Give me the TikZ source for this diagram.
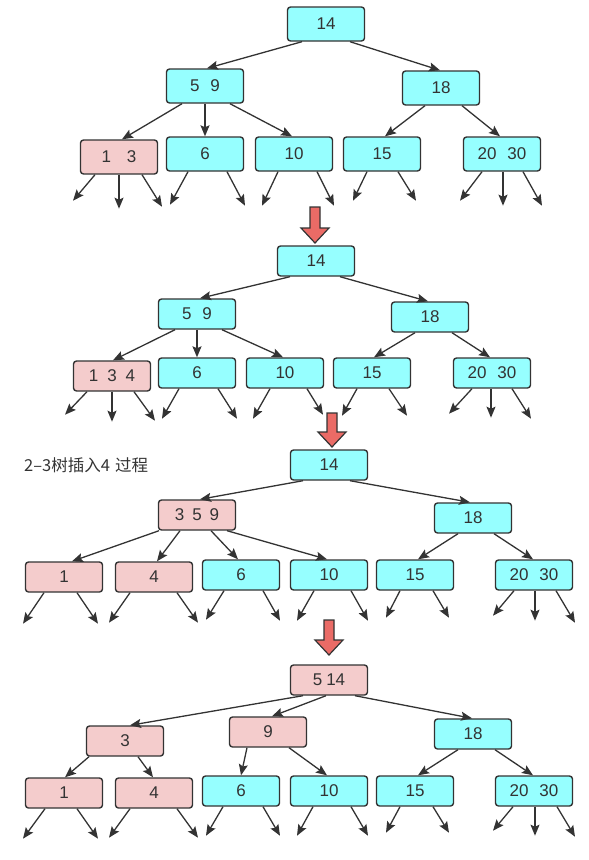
\documentclass[tikz,border=0pt]{standalone}
\usepackage{fontspec}
\setmainfont{Liberation Sans}
\newfontfamily\cjk{Noto Sans CJK SC}
\usetikzlibrary{arrows.meta}
\definecolor{cyanfill}{RGB}{150,255,255}
\definecolor{pinkfill}{RGB}{244,204,204}
\definecolor{ink}{RGB}{51,51,51}
\definecolor{redarrow}{RGB}{234,107,102}
\tikzset{
  box/.style={draw=ink, line width=1.4pt, rounded corners=3pt, minimum width=77pt,
    minimum height=30pt, inner sep=0pt, text=ink, font=\fontsize{17}{19}\selectfont},
  cbox/.style={box, fill=cyanfill},
  pbox/.style={box, fill=pinkfill},
  tall/.style={minimum height=34pt},
  arr/.style={draw=ink, line width=1.3pt, -{Stealth[length=11pt,width=9pt,inset=2pt]}},
  blockarr/.style={draw=ink, line width=1.2pt, fill=redarrow, line join=miter}
}
\newcommand\edg[4]{\draw[arr] ([xshift=#2pt]#1.south) -- ([xshift=#4pt]#3.north);}
\newcommand\leaf[4]{\draw[arr] ([xshift=#2pt]#1.south) -- ++(#3,#4);}
\newcommand\blockarrow[4]{% cx, top, headtop, tip
  \draw[blockarr] (#1-5,#2) -- (#1+5,#2) -- (#1+5,#3) -- (#1+14,#3) -- (#1,#4)
    -- (#1-14,#3) -- (#1-5,#3) -- cycle;}
\begin{document}
\begin{tikzpicture}[x=1pt,y=-1pt]
\useasboundingbox (0,0) rectangle (589,860);

% ---------------- Tree 1 ----------------
\node[cbox,tall] (Aa) at (326,24) {14};
\node[cbox,tall] (Ab) at (205,86) {5\hspace{11pt}9};
\node[cbox,tall] (Ac) at (441,88) {18};
\node[pbox,tall] (Ad) at (119,157) {1\hspace{16pt}3};
\node[cbox,tall] (Ae) at (205,154) {6};
\node[cbox,tall] (Af) at (294,154) {10};
\node[cbox,tall] (Ag) at (382,154) {15};
\node[cbox,tall] (Ah) at (502,154) {20\hspace{11pt}30};
\edg{Aa}{-24}{Ab}{2}
\edg{Aa}{24}{Ac}{-1}
\edg{Ab}{-23}{Ad}{3}
\edg{Ab}{0}{Ae}{0}
\edg{Ab}{25}{Af}{-2}
\edg{Ac}{-16}{Ag}{3}
\edg{Ac}{21}{Ah}{-2}
\leaf{Ad}{-24}{-22}{26}\leaf{Ad}{0}{0}{34}\leaf{Ad}{23}{20}{32}
\leaf{Ae}{-17}{-18}{33}\leaf{Ae}{22}{18}{34}
\leaf{Af}{-16}{-16}{34}\leaf{Af}{23}{17}{34}
\leaf{Ag}{-15}{-14}{29}\leaf{Ag}{16}{18}{29}
\leaf{Ah}{-20}{-22}{29}\leaf{Ah}{1}{0}{34}\leaf{Ah}{21}{19}{34}

\blockarrow{315}{207}{228}{243}

% ---------------- Tree 2 ----------------
\node[cbox] (Ba) at (316,261) {14};
\node[cbox] (Bb) at (197,314) {5\hspace{11pt}9};
\node[cbox] (Bc) at (430,317) {18};
\node[pbox] (Bd) at (112,376) {1\hspace{9pt}3\hspace{9pt}4};
\node[cbox] (Be) at (197,373) {6};
\node[cbox] (Bf) at (285,373) {10};
\node[cbox] (Bg) at (372,373) {15};
\node[cbox] (Bh) at (492,373) {20\hspace{11pt}30};
\edg{Ba}{-26}{Bb}{3}
\edg{Ba}{24}{Bc}{-2}
\edg{Bb}{-22}{Bd}{1}
\edg{Bb}{0}{Be}{0}
\edg{Bb}{25}{Bf}{-2}
\edg{Bc}{-15}{Bg}{2}
\edg{Bc}{22}{Bh}{-2}
\leaf{Bd}{-25}{-22}{23}\leaf{Bd}{0}{0}{30}\leaf{Bd}{22}{21}{29}
\leaf{Be}{-18}{-17}{30}\leaf{Be}{21}{19}{30}
\leaf{Bf}{-15}{-17}{30}\leaf{Bf}{22}{16}{26}
\leaf{Bg}{-15}{-15}{27}\leaf{Bg}{17}{18}{27}
\leaf{Bh}{-20}{-23}{25}\leaf{Bh}{-1}{0}{29}\leaf{Bh}{20}{19}{30}

\blockarrow{332}{413}{432}{447}

% ---------------- Tree 3 ----------------
\node[text=ink, font=\cjk\fontsize{16.5}{18}\selectfont, anchor=west, inner sep=0pt] (title) at (24,465) {2–3树插入4\hspace{5pt}过程};
\node[cbox] (Ca) at (329,465) {14};
\node[pbox] (Cb) at (197,515) {3\hspace{8pt}5\hspace{8pt}9};
\node[cbox] (Cc) at (473,518) {18};
\node[pbox] (Cd) at (64,577) {1};
\node[pbox] (Ce) at (154,577) {4};
\node[cbox] (Cf) at (241,575) {6};
\node[cbox] (Cg) at (329,575) {10};
\node[cbox] (Ch) at (415,575) {15};
\node[cbox] (Ci) at (534,575) {20\hspace{11pt}30};
\edg{Ca}{-26}{Cb}{3}
\edg{Ca}{21}{Cc}{-3}
\edg{Cb}{-38}{Cd}{8}
\edg{Cb}{-17}{Ce}{3}
\edg{Cb}{14}{Cf}{-3}
\edg{Cb}{30}{Cg}{-2}
\edg{Cc}{-15}{Ch}{3}
\edg{Cc}{21}{Ci}{-1}
\leaf{Cd}{-20}{-21}{31}\leaf{Cd}{13}{21}{31}
\leaf{Ce}{-24}{-21}{30}\leaf{Ce}{23}{21}{30}
\leaf{Cf}{-17}{-18}{29}\leaf{Cf}{22}{17}{30}
\leaf{Cg}{-15}{-17}{30}\leaf{Cg}{22}{17}{30}
\leaf{Ch}{-15}{-14}{27}\leaf{Ch}{18}{16}{27}
\leaf{Ci}{-20}{-21}{25}\leaf{Ci}{1}{0}{30}\leaf{Ci}{22}{19}{32}

\blockarrow{329}{620}{640}{655}

% ---------------- Tree 4 ----------------
\node[pbox] (Da) at (329,680) {5\hspace{4pt}14};
\node[pbox] (Db) at (125,741) {3};
\node[pbox] (Dc) at (268,732) {9};
\node[cbox] (Dd) at (473,734) {18};
\node[pbox] (De) at (64,793) {1};
\node[pbox] (Df) at (154,793) {4};
\node[cbox] (Dg) at (241,791) {6};
\node[cbox] (Dh) at (329,791) {10};
\node[cbox] (Di) at (415,791) {15};
\node[cbox] (Dj) at (534,791) {20\hspace{11pt}30};
\edg{Da}{-26}{Db}{5}
\edg{Da}{-3}{Dc}{4}
\edg{Da}{26}{Dd}{-1}
\edg{Db}{-36}{De}{1}
\edg{Db}{13}{Df}{-1}
\edg{Dc}{-21}{Dg}{0}
\edg{Dc}{21}{Dh}{-2}
\edg{Dd}{-15}{Di}{3}
\edg{Dd}{22}{Dj}{-1}
\leaf{De}{-19}{-22}{30}\leaf{De}{13}{21}{30}
\leaf{Df}{-24}{-21}{29}\leaf{Df}{23}{21}{29}
\leaf{Dg}{-18}{-17}{29}\leaf{Dg}{22}{17}{29}
\leaf{Dh}{-16}{-16}{29}\leaf{Dh}{22}{17}{29}
\leaf{Di}{-15}{-14}{26}\leaf{Di}{18}{16}{26}
\leaf{Dj}{-21}{-20}{24}\leaf{Dj}{1}{0}{29}\leaf{Dj}{23}{18}{30}
\end{tikzpicture}
\end{document}
